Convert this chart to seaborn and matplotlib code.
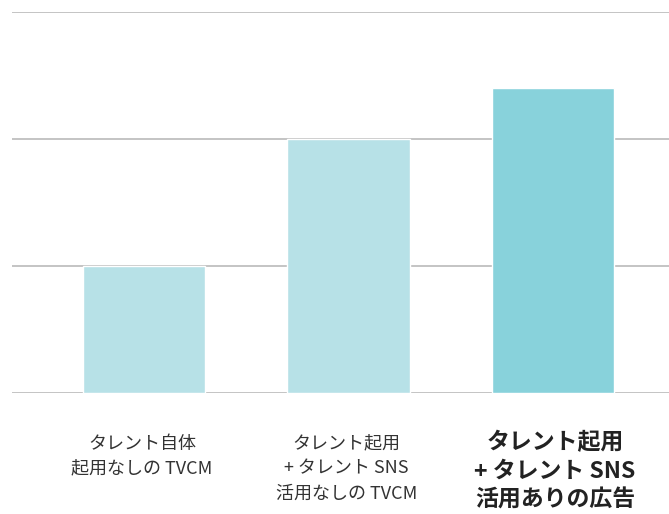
import matplotlib.pyplot as plt
import seaborn as sns
import pandas as pd

categories = ['タレント自体\n起用なしの TVCM',
              'タレント起用\n+ タレント SNS\n活用なしの TVCM',
              'タレント起用\n+ タレント SNS\n活用ありの広告']
values = [1.0, 2.0, 2.4]
bar_colors = ['#b7e1e7', '#b7e1e7', '#88d2db']
grid_ticks = [0, 1, 2, 3]

sns.set_style('white')
plt.rcParams['font.family'] = ['Noto Sans CJK JP', 'DejaVu Sans']

df = pd.DataFrame({'label': categories, 'value': values})

fig = plt.figure(figsize=(6.69, 5.14), dpi=100)
ax = fig.add_axes([12 / 669, 1 - 392.7 / 514, 657 / 669, 380.4 / 514])
sns.barplot(data=df, x='label', y='value', hue='label', palette=bar_colors,
            width=0.6, legend=False, ax=ax, saturation=1)

ax.set_ylim(0, 3)
ax.set_xlim(-0.6455, 2.567)
ax.set_yticks(grid_ticks)
ax.yaxis.grid(True, color='#c4c4c4', linewidth=1.4)
ax.set_axisbelow(True)
ax.tick_params(left=False, bottom=False, labelleft=False, labelbottom=False)
ax.set_xlabel('')
ax.set_ylabel('')
sns.despine(ax=ax, left=True, bottom=True)

for i, lab in enumerate(categories):
    if i == 2:
        ax.text(i + 0.01, -0.305, lab, ha='center', va='top', fontsize=16.5,
                fontweight='bold', linespacing=1.3, color='#222222',
                transform=ax.transData)
    else:
        ax.text(i - 0.01, -0.33, lab, ha='center', va='top', fontsize=13,
                linespacing=1.5, color='#333333', transform=ax.transData)

fig.savefig('out.png', dpi=100)
